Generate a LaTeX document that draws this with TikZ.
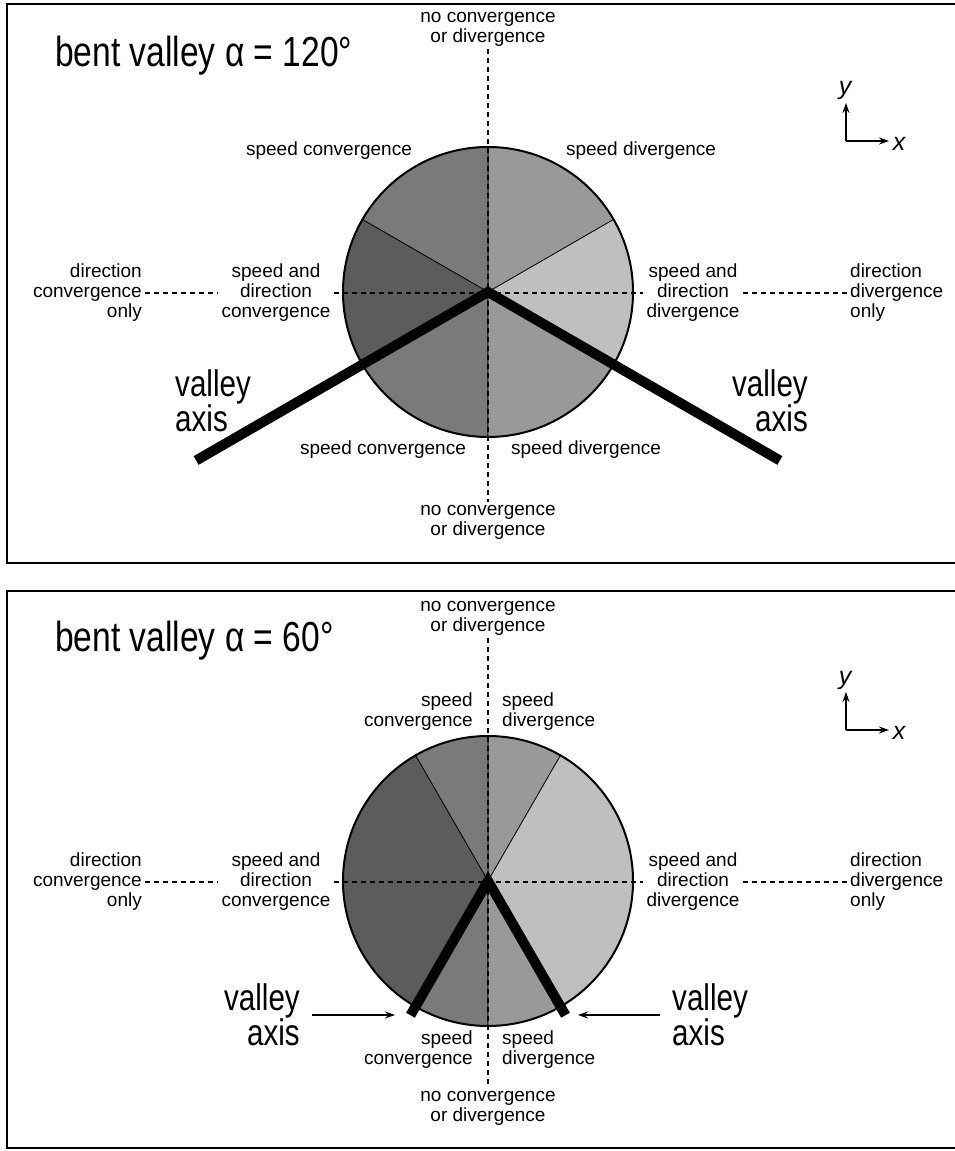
\documentclass[tikz,border=0pt]{standalone}
\usepackage{fontspec}
\setmainfont{Liberation Sans}
\newfontfamily\narrowsans[FakeStretch=0.8]{Liberation Sans}
\usepackage{tikz}
\usetikzlibrary{arrows.meta}

\colorlet{spdconv}{black!52}
\colorlet{dirconv}{black!64}
\colorlet{spddiv}{black!40}
\colorlet{dirdiv}{black!25}

\begin{document}
\begin{tikzpicture}[x=1pt, y=1pt, >={Stealth[length=10pt, width=7pt]},
    lbl/.style={font=\fontsize{19}{20}\selectfont, inner sep=3pt},
    big/.style={font=\narrowsans\fontsize{42}{40}\selectfont, inner sep=0pt},
    axlbl/.style={font=\narrowsans\fontsize{37}{33}\selectfont, inner sep=0pt},
    xylbl/.style={font=\fontsize{25}{25}\selectfont\itshape, inner sep=0pt},
    guide/.style={dash pattern=on 5pt off 4pt, line width=1.5pt},
    valley/.style={line width=10pt},
    sector/.style={draw=black, line width=0.7pt},
    frame/.style={line width=1.5pt}]
    \useasboundingbox (0, 0) rectangle (954, 1151);
    % frames
    \draw [frame] (7, 588) rectangle (975, 1147);
    \draw [frame] (7, 3) rectangle (975, 560);

    % alpha = 120
    \begin{scope}[shift={(488, 859)}]
    \coordinate (o1) at (0, 0);
    % sectors
    \filldraw [sector, fill=spddiv] (o1) -- (30:145) arc[start angle=30, end angle=90, radius=145] -- cycle;
    \filldraw [sector, fill=spdconv] (o1) -- (90:145) arc[start angle=90, end angle=150, radius=145] -- cycle;
    \filldraw [sector, fill=dirconv] (o1) -- (150:145) arc[start angle=150, end angle=210, radius=145] -- cycle;
    \filldraw [sector, fill=spdconv] (o1) -- (210:145) arc[start angle=210, end angle=270, radius=145] -- cycle;
    \filldraw [sector, fill=spddiv] (o1) -- (270:145) arc[start angle=270, end angle=330, radius=145] -- cycle;
    \filldraw [sector, fill=dirdiv] (o1) -- (330:145) arc[start angle=330, end angle=390, radius=145] -- cycle;
    \draw [line width=2pt] (o1) circle (145);
    \node [big, anchor=west] (0) at (-433, 236) {bent valley α = 120°};
    \node [lbl, align=center] (1) at (0, 263) {no convergence\\or divergence};
    \node [lbl, align=center] (2) at (0, -230) {no convergence\\or divergence};
    \node [lbl] (3) at (-159, 141) {speed convergence};
    \node [lbl] (4) at (153, 141) {speed divergence};
    \node [lbl] (5) at (-105, -158) {speed convergence};
    \node [lbl] (6) at (98, -158) {speed divergence};
    \node [lbl, align=right, anchor=east] (7) at (-343, -1) {direction\\convergence\\only};
    \node [lbl, align=center] (8) at (-212, -1) {speed and\\direction\\convergence};
    \node [lbl, align=center] (9) at (205, -1) {speed and\\direction\\divergence};
    \node [lbl, align=left, anchor=west] (10) at (359, -1) {direction\\divergence\\only};
    \draw [guide] (1) to (2);
    \draw [guide] (7) to (8);
    \draw [guide] (8) to (9);
    \draw [guide] (9) to (10);
    % valley axis
    \coordinate (a1) at (210:337);
    \coordinate (b1) at (330:337);
    \draw [valley] (a1) -- (o1) -- (b1);
    \node [axlbl, align=left, anchor=west] (11) at (-313, -109) {valley\\axis};
    \node [axlbl, align=right, anchor=east] (12) at (320, -109) {valley\\axis};
    % x-y
    \coordinate (xy1) at (358, 151);
    \coordinate (yt1) at (358, 189);
    \coordinate (xt1) at (401, 151);
    \draw [->, line width=1.3pt] (xy1) to (yt1);
    \draw [->, line width=1.3pt] (xy1) to (xt1);
    \node [xylbl] (13) at (357, 201) {y};
    \node [xylbl] (14) at (411, 148) {x};
    \end{scope}

    % alpha = 60
    \begin{scope}[shift={(488, 270)}]
    \coordinate (o2) at (0, 0);
    % sectors
    \filldraw [sector, fill=spddiv] (o2) -- (60:145) arc[start angle=60, end angle=90, radius=145] -- cycle;
    \filldraw [sector, fill=spdconv] (o2) -- (90:145) arc[start angle=90, end angle=120, radius=145] -- cycle;
    \filldraw [sector, fill=dirconv] (o2) -- (120:145) arc[start angle=120, end angle=240, radius=145] -- cycle;
    \filldraw [sector, fill=spdconv] (o2) -- (240:145) arc[start angle=240, end angle=270, radius=145] -- cycle;
    \filldraw [sector, fill=spddiv] (o2) -- (270:145) arc[start angle=270, end angle=300, radius=145] -- cycle;
    \filldraw [sector, fill=dirdiv] (o2) -- (300:145) arc[start angle=300, end angle=420, radius=145] -- cycle;
    \draw [line width=2pt] (o2) circle (145);
    \node [big, anchor=west] (20) at (-433, 240) {bent valley α = 60°};
    \node [lbl, align=center] (21) at (0, 263) {no convergence\\or divergence};
    \node [lbl, align=center] (22) at (0, -227) {no convergence\\or divergence};
    \node [lbl, align=right, anchor=east] (23) at (-12, 169) {speed\\convergence};
    \node [lbl, align=left, anchor=west] (24) at (11, 169) {speed\\divergence};
    \node [lbl, align=right, anchor=east] (25) at (-12, -169) {speed\\convergence};
    \node [lbl, align=left, anchor=west] (26) at (11, -169) {speed\\divergence};
    \node [lbl, align=right, anchor=east] (27) at (-343, -1) {direction\\convergence\\only};
    \node [lbl, align=center] (28) at (-212, -1) {speed and\\direction\\convergence};
    \node [lbl, align=center] (29) at (205, -1) {speed and\\direction\\divergence};
    \node [lbl, align=left, anchor=west] (30) at (359, -1) {direction\\divergence\\only};
    \draw [guide] (21) to (22);
    \draw [guide] (27) to (28);
    \draw [guide] (28) to (29);
    \draw [guide] (29) to (30);
    % valley axis
    \coordinate (a2) at (240:155);
    \coordinate (b2) at (300:155);
    \draw [valley] (a2) -- (o2) -- (b2);
    \node [axlbl, align=right, anchor=east] (31) at (-188, -134) {valley\\axis};
    \node [axlbl, align=left, anchor=west] (32) at (184, -134) {valley\\axis};
    \coordinate (la2) at (-93, -134);
    \coordinate (lb2) at (90, -134);
    \draw [->, line width=1.5pt, shorten <=12pt] (31) to (la2);
    \draw [->, line width=1.5pt, shorten <=12pt] (32) to (lb2);
    % x-y
    \coordinate (xy2) at (358, 151);
    \coordinate (yt2) at (358, 189);
    \coordinate (xt2) at (401, 151);
    \draw [->, line width=1.3pt] (xy2) to (yt2);
    \draw [->, line width=1.3pt] (xy2) to (xt2);
    \node [xylbl] (33) at (357, 201) {y};
    \node [xylbl] (34) at (411, 148) {x};
    \end{scope}
\end{tikzpicture}
\end{document}
